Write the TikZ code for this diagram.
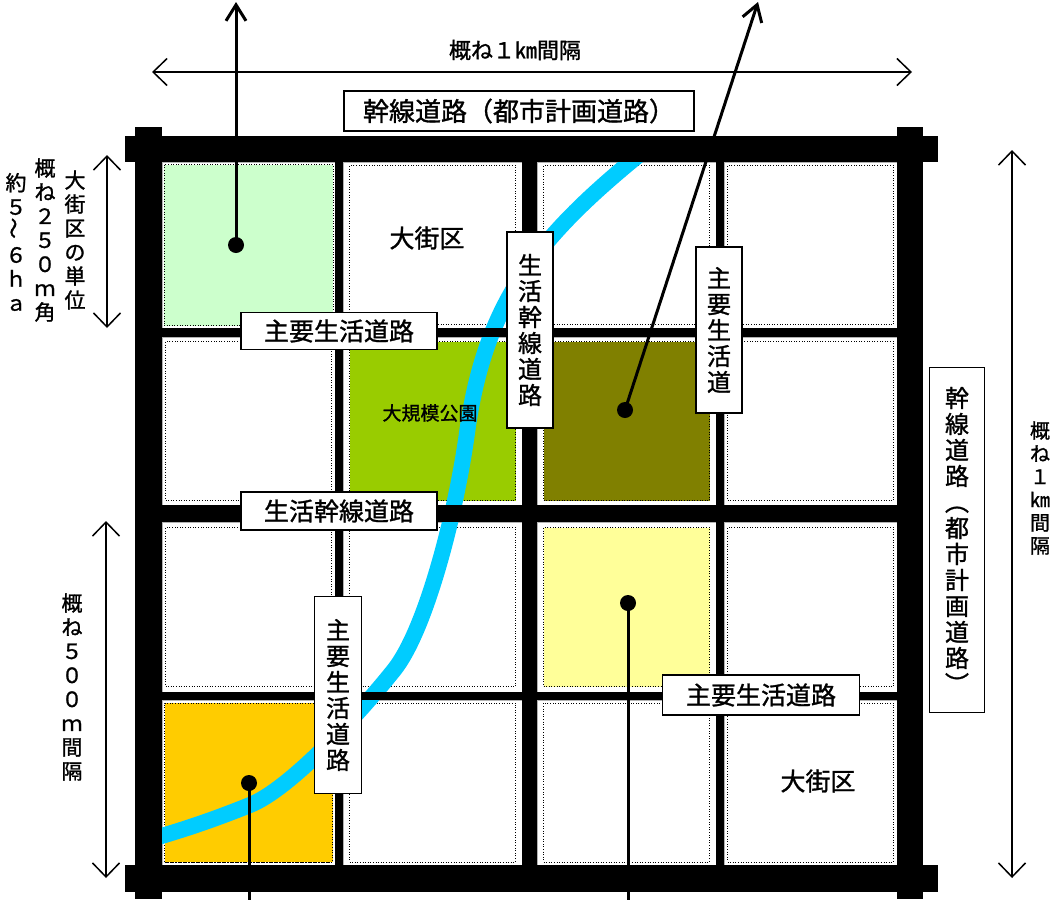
\documentclass[tikz,border=0pt]{standalone}
\usepackage{fontspec}
\setmainfont{Noto Sans CJK JP}[FakeBold=1.2]
\usepackage{graphicx}
\usepackage{tikz}
\usetikzlibrary{arrows.meta}
\definecolor{lightgreen}{HTML}{CCFFCC}
\definecolor{parkgreen}{HTML}{99CC00}
\definecolor{blockolive}{HTML}{808000}
\definecolor{paleyellow}{HTML}{FFFF99}
\definecolor{blockgold}{HTML}{FFCC00}
\definecolor{rivercyan}{HTML}{00CCFF}
\tikzset{
  cell/.style={draw=black!30, line width=0.8pt, fill=white},
  block/.style={draw, dash pattern=on 1pt off 1.6pt, line width=0.9pt, minimum width=166pt, minimum height=159pt, inner sep=0pt},
  road/.style={fill=black},
  riverline/.style={draw=rivercyan, line width=16pt},
  roadlabel/.style={draw, line width=1.5pt, fill=white, inner sep=0pt, font=\fontsize{25}{26}\selectfont},
  tate/.style={roadlabel, align=center, font=\fontsize{24}{26}\selectfont},
  tatetext/.style={align=center, inner sep=0pt, font=\fontsize{21}{24}\selectfont},
  blocktext/.style={font=\fontsize{25}{26}\selectfont},
  dim/.style={line width=1.5pt, {Straight Barb[length=14pt,width=27pt]}-{Straight Barb[length=14pt,width=27pt]}},
  leader/.style={line width=3pt},
  dot/.style={circle, fill, inner sep=0pt, minimum size=16pt}
}
\begin{document}
\begin{tikzpicture}[x=1pt,y=-1pt]
\useasboundingbox (0,0) rectangle (1054,900);
% blocks
\foreach \xa/\xb [count=\i] in {162/335,343/522,537/716,724/897}
  \foreach \ya/\yb [count=\j] in {162/328,337/505,522/692,700/865} {
    \draw[cell] (\xa,\ya) rectangle (\xb,\yb);
    \node[block] (b\j\i) at ({(\xa+\xb)/2},{(\ya+\yb)/2}) {};
  }
\node[block, fill=lightgreen, minimum width=169pt, minimum height=161pt] (green) at (b11) {};
\node[block, fill=parkgreen] (parkblock) at (b22) {};
\node[block, fill=blockolive] (oliveblock) at (b23) {};
\node[block, fill=paleyellow] (yellowblock) at (b33) {};
\node[block, fill=blockgold, minimum width=168pt] (goldblock) at (b41) {};
% river
\draw[riverline] (645,150) .. controls (540,235) and (485,300) .. (467,433)
  .. controls (456,513) and (426,630) .. (394,670)
  .. controls (358,715) and (290,789) .. (250,805)
  .. controls (210,821) and (185,829) .. (155,838);
% roads
\fill[road] (125,136) rectangle (938,162);
\fill[road] (125,865) rectangle (938,892);
\fill[road] (135,127) rectangle (162,899);
\fill[road] (897,127) rectangle (923,899);
\foreach \xa/\xb in {335/343,522/537,716/724}
  \fill[road] (\xa,162) rectangle (\xb,865);
\foreach \ya/\yb in {328/337,505/522,692/700}
  \fill[road] (162,\ya) rectangle (897,\yb);
% road labels
\node[roadlabel, minimum width=350pt, minimum height=40pt, font=\fontsize{26}{26}\selectfont] (main) at (519,111) {幹線道路（都市計画道路）};
\node[roadlabel, minimum width=196pt, minimum height=37pt] (lane1) at (339,331) {主要生活道路};
\node[roadlabel, minimum width=196pt, minimum height=38pt] (trunk1) at (339,511) {生活幹線道路};
\node[roadlabel, minimum width=197pt, minimum height=40pt] (lane2) at (761,695) {主要生活道路};
\node[tate, minimum width=46pt, minimum height=196pt] (trunk2) at (530,330) {生\\活\\幹\\線\\道\\路};
\node[tate, minimum width=46pt, minimum height=166pt] (lane3) at (719,330) {主\\要\\生\\活\\道};
\node[tate, minimum width=47pt, minimum height=197pt] (lane4) at (338,695) {主\\要\\生\\活\\道\\路};
\node[tate, minimum width=55pt, minimum height=345pt] (main2) at (957,540) {幹\\線\\道\\路\\︵\\都\\市\\計\\画\\道\\路\\︶};
% block texts
\node[blocktext] (area1) at (427,238) {大街区};
\node[blocktext] (area2) at (818,781) {大街区};
\node[font=\fontsize{19}{20}\selectfont] (park) at (430,413) {大規模公園};
% leaders
\node[dot] (d1) at (236,245) {};
\node[dot] (d2) at (625,410) {};
\node[dot] (d3) at (628,603) {};
\node[dot] (d4) at (249,783) {};
\coordinate (t1) at (236,2);
\coordinate (t2) at (758,2);
\coordinate (e3) at (628,900);
\coordinate (e4) at (249,900);
\draw[leader, -{Straight Barb[length=16pt,width=20pt]}] (d1.center) -- (t1);
\draw[leader, -{Straight Barb[length=16pt,width=20pt]}] (d2.center) -- (t2);
\draw[leader] (d3.center) -- (e3);
\draw[leader] (d4.center) -- (e4);
% dimensions
\coordinate (wl) at (152,72);
\coordinate (wr) at (912,72);
\coordinate (ha) at (107,155);
\coordinate (hb) at (107,328);
\coordinate (hc) at (106,521);
\coordinate (hd) at (106,878);
\coordinate (he) at (1012,150);
\coordinate (hf) at (1012,878);
\draw[dim] (wl) -- (wr);
\draw[dim] (ha) -- (hb);
\draw[dim] (hc) -- (hd);
\draw[dim] (he) -- (hf);
\node[font=\fontsize{22}{24}\selectfont] (wtext) at (515,50) {概ね１㎞間隔};
\node[tatetext] (unit) at (75,240) {大\\街\\区\\の\\単\\位};
\node[tatetext] (side) at (45,240) {概\\ね\\２\\５\\０\\ｍ\\角};
\node[tatetext] (size) at (16,242) {約\\５\\\rotatebox{90}{～}\\６\\ｈ\\ａ};
\node[tatetext] (half) at (72,687) {概\\ね\\５\\０\\０\\ｍ\\間\\隔};
\node[tatetext, font=\fontsize{20}{23}\selectfont] (whole) at (1040,488) {概\\ね\\１\\㎞\\間\\隔};
\end{tikzpicture}
\end{document}
